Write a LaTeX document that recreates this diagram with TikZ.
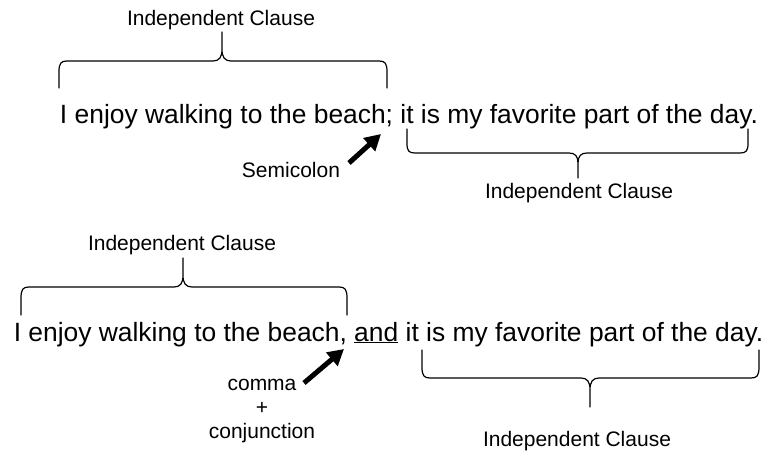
\documentclass[tikz,border=0pt]{standalone}
\usepackage{fontspec}
\setmainfont{Liberation Sans}
\usetikzlibrary{arrows.meta}
\newcommand\clausebrace[6]{% #1 L, #2 R, #3 y of ends, #4 y of bar, #5 x of tip, #6 y of tip
  \draw[brace] (#1,#3) -- (#1,{#4+0.4*(#3-#4)}) .. controls (#1,{#4+0.08*(#3-#4)}) and ({#1+2},#4) .. ({#1+8},#4)
    -- ({#5-9},#4) .. controls ({#5-3},#4) and (#5,{#4+0.12*(#6-#4)}) .. (#5,{#4+0.4*(#6-#4)}) -- (#5,#6)
    (#5,{#4+0.4*(#6-#4)}) .. controls (#5,{#4+0.12*(#6-#4)}) and ({#5+3},#4) .. ({#5+9},#4)
    -- ({#2-8},#4) .. controls ({#2-2},#4) and (#2,{#4+0.08*(#3-#4)}) .. (#2,{#4+0.4*(#3-#4)}) -- (#2,#3);}
\begin{document}
\begin{tikzpicture}[x=1pt,y=-1pt,
  sent/.style={font=\fontsize{26.4}{32}\selectfont, inner sep=0pt, anchor=base},
  lab/.style={font=\fontsize{21}{24}\selectfont, inner sep=0pt, align=center},
  brace/.style={line width=1.2pt, line join=round, line cap=round},
  bigarrow/.style={line width=5pt, -{Triangle[length=16pt,width=17pt]}}]
\useasboundingbox (0,0) rectangle (772,455);

% first sentence
\node[sent] (s1) at (409,123.5) {I enjoy walking to the beach; it is my favorite part of the day.};
\node[lab] (ic1) at (221,20) {Independent Clause};
\node[lab] (ic2) at (579,193) {Independent Clause};
\node[lab] (semi) at (291,170) {Semicolon};
\clausebrace{59}{387}{88}{61}{222}{32}
\clausebrace{407}{748}{129}{153}{578}{178}
\coordinate (a1s) at (349,163);
\coordinate (a1t) at (381,134);
\draw[bigarrow] (a1s) -- (a1t);

% second sentence
\node[sent] (s2) at (388.5,341) {I enjoy walking to the beach, \underline{and} it is my favorite part of the day.};
\node[lab] (ic3) at (182,245) {Independent Clause};
\node[lab] (ic4) at (577,441) {Independent Clause};
\node[lab] (conj) at (262,411) {comma\\+\\conjunction};
\clausebrace{21}{347}{315}{287}{183}{258}
\clausebrace{422}{759}{350}{378}{590}{407}
\coordinate (a2s) at (304,383);
\coordinate (a2t) at (344,349);
\draw[bigarrow] (a2s) -- (a2t);
\end{tikzpicture}
\end{document}
